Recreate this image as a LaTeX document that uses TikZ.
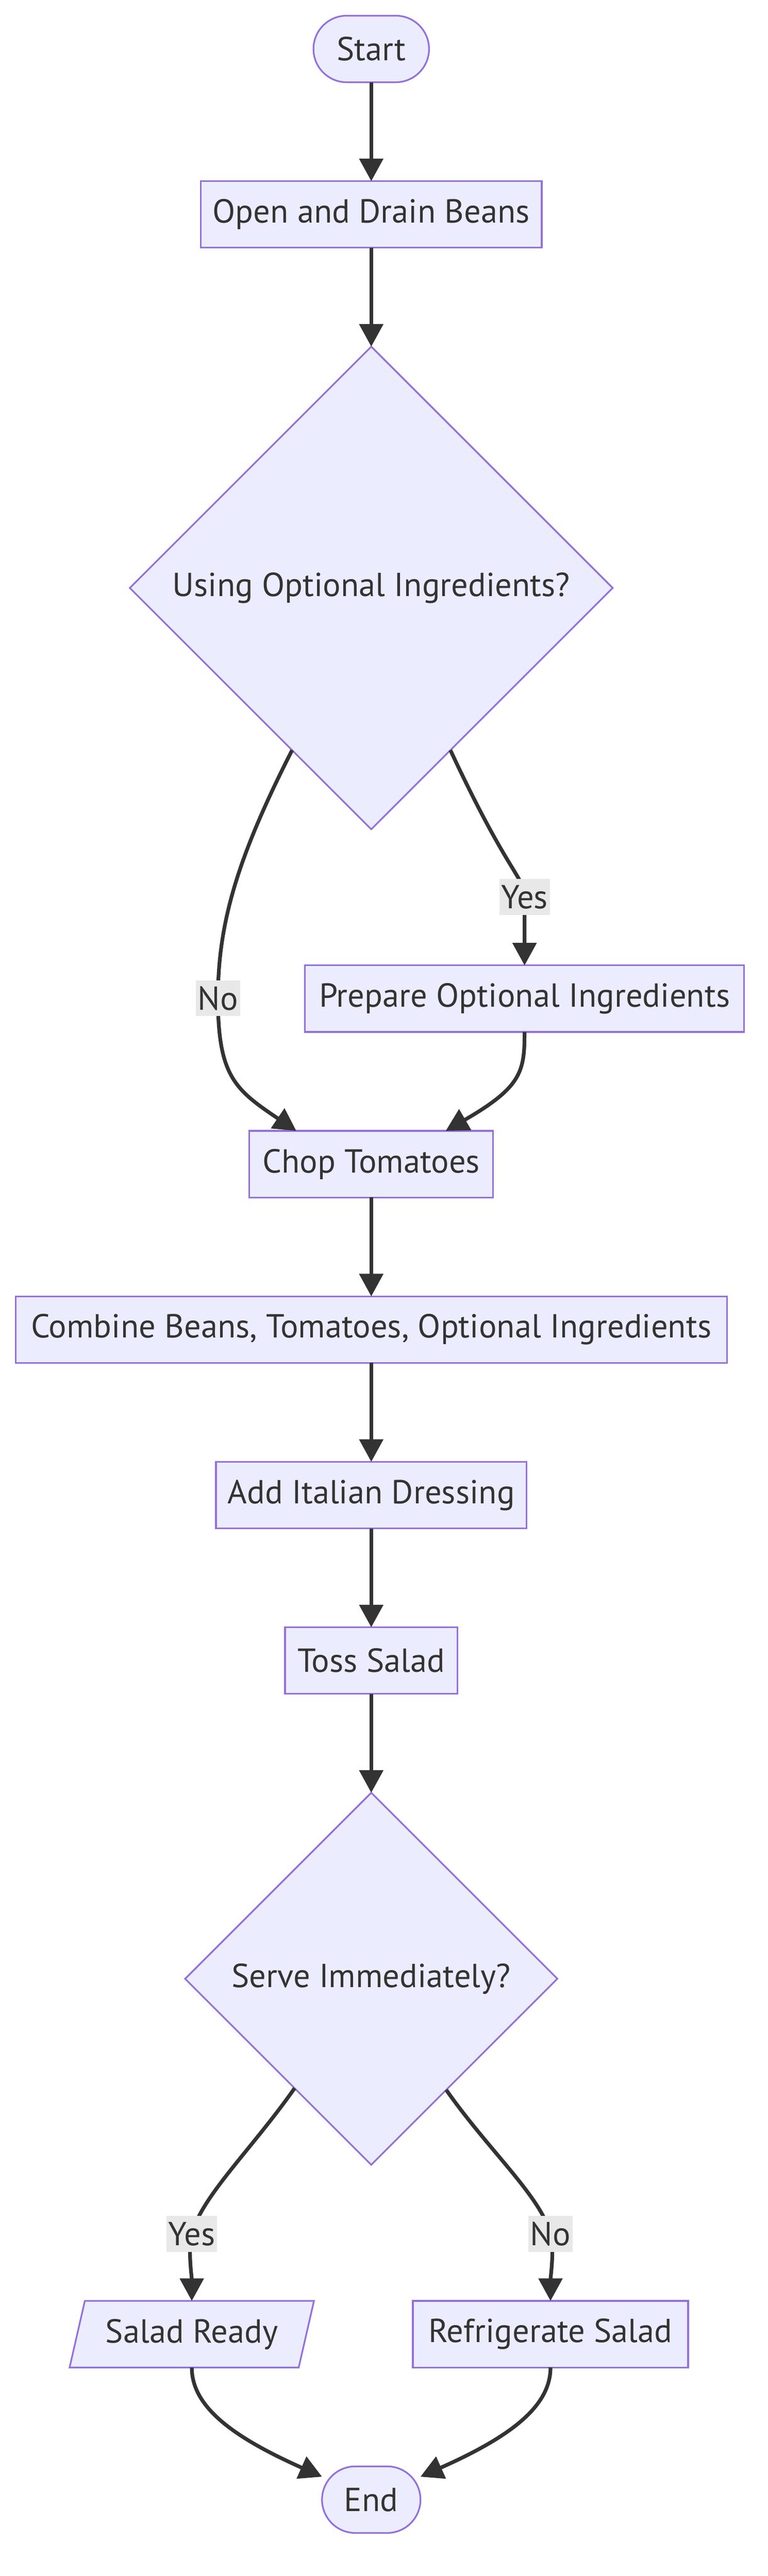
\documentclass[tikz,border=0pt]{standalone}
\usepackage{fontspec}
\setmainfont{PT Sans}
\usepackage{xcolor}
\usetikzlibrary{positioning,shapes.geometric,arrows.meta}

\definecolor{nodefill}{HTML}{ECECFF}
\definecolor{nodeline}{HTML}{9370DB}
\definecolor{ink}{HTML}{333333}
\definecolor{labelbg}{HTML}{E8E8E8}

\begin{document}
\begin{tikzpicture}[
    node distance=50.5pt,
    font=\fontsize{17pt}{20pt}\selectfont,
    base/.style={draw=nodeline, fill=nodefill, line width=0.85pt, text=ink, inner sep=0pt, outer sep=0pt},
    terminal/.style={base, rectangle, rounded corners=17pt, minimum height=34pt},
    process/.style={base, rectangle, minimum height=34pt},
    decision/.style={base, diamond, aspect=1},
    output/.style={base, trapezium, trapezium left angle=63.43, trapezium right angle=116.57, trapezium stretches body, minimum height=34pt},
    arrow/.style={-{Triangle[length=11.5pt,width=12pt]}, draw=ink, line width=1.9pt},
    answer/.style={fill=labelbg, text=ink, inner xsep=1pt, inner ysep=0pt, minimum height=18.25pt}
]
\useasboundingbox (0,0) rectangle (392pt,-1315.5pt);

\node[terminal, minimum width=59pt] (start) at (189.5pt,-25pt) {Start};
\node[process, minimum width=174pt, below=of start] (beans) {Open and Drain Beans};
\node[decision, minimum size=246.5pt, below=of beans] (optq) {Using Optional Ingredients?};
\node[process, minimum width=224.25pt, below=69.5pt of optq, xshift=78.25pt] (prep) {Prepare Optional Ingredients};
\node[process, minimum width=124.5pt, below=154pt of optq] (chop) {Chop Tomatoes};
\node[process, minimum width=363pt, below=of chop] (combine) {Combine Beans, Tomatoes, Optional Ingredients};
\node[process, minimum width=158.5pt, below=of combine] (dressing) {Add Italian Dressing};
\node[process, minimum width=88pt, below=of dressing] (toss) {Toss Salad};
\node[decision, minimum size=190pt, below=of toss] (serveq) {Serve Immediately?};
\node[output, minimum width=124.75pt, below=69.5pt of serveq, xshift=-91.6pt] (ready) {Salad Ready};
\node[process, minimum width=140.5pt, below=69.5pt of serveq, xshift=91.5pt] (fridge) {Refrigerate Salad};
\node[terminal, minimum width=50.25pt, below=154pt of serveq] (finish) {End};

\draw[arrow] (start) -- (beans);
\draw[arrow] (beans) -- (optq);
\draw[arrow] (optq.244) .. controls +(-117:62.5pt) and +(90:37.5pt) .. ([xshift=-78.25pt,yshift=67.75pt]chop.north) node[answer] {No}
    .. controls +(-90:40pt) and +(146:37.5pt) .. ([xshift=-38.25pt]chop.north);
\draw[arrow] (optq.296) .. controls +(-65:70pt) and +(90:10pt) .. ([yshift=35pt]prep.north) node[answer] {Yes} -- (prep.north);
\draw[arrow] (prep.south) .. controls +(-90:20pt) and +(30:45pt) .. ([xshift=38pt]chop.north);
\draw[arrow] (chop) -- (combine);
\draw[arrow] (combine) -- (dressing);
\draw[arrow] (dressing) -- (toss);
\draw[arrow] (toss) -- (serveq);
\draw[arrow] (serveq.235.4) .. controls +(-125:37.5pt) and +(75:20pt) .. ([yshift=34.25pt]ready.north) node[answer] {Yes}
    .. controls +(-105:8pt) and +(90:12pt) .. (ready.north);
\draw[arrow] (serveq.304.6) .. controls +(-55:37.5pt) and +(105:20pt) .. ([yshift=34.25pt]fridge.north) node[answer] {No}
    .. controls +(-75:8pt) and +(90:12pt) .. (fridge.north);
\draw[arrow] (ready.south) .. controls +(-90:20pt) and +(156:50pt) .. (finish.155);
\draw[arrow] (fridge.south) .. controls +(-90:20pt) and +(24:50pt) .. (finish.25);

\end{tikzpicture}
\end{document}
